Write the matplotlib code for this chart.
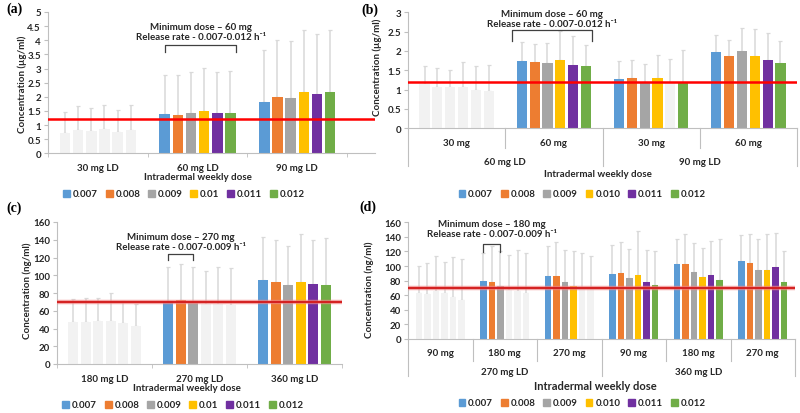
import numpy as np
import matplotlib.pyplot as plt
from matplotlib.patches import Patch
from matplotlib.transforms import blended_transform_factory

plt.rcParams['font.family'] = ['Lato', 'DejaVu Sans']
plt.rcParams['font.weight'] = 'bold'

# release rates (legend entries)
rates_ac = ['0.007', '0.008', '0.009', '0.01', '0.011', '0.012']
rates_bd = ['0.007', '0.008', '0.009', '0.010', '0.011', '0.012']

# panel (a) - ug/ml
a_groups = ['30 mg LD', '60 mg LD', '90 mg LD']
a_mean = [[0.73, 0.83, 0.80, 0.85, 0.76, 0.83],
          [1.38, 1.37, 1.42, 1.50, 1.42, 1.43],
          [1.82, 1.98, 1.97, 2.18, 2.10, 2.17]]
a_sd = [[0.72, 0.85, 0.82, 0.87, 0.77, 0.87],
        [1.40, 1.41, 1.46, 1.52, 1.44, 1.47],
        [1.83, 2.02, 2.00, 2.20, 2.12, 2.18]]
a_yticks = [0, 0.5, 1, 1.5, 2, 2.5, 3, 3.5, 4, 4.5, 5]
a_min = 1.2

# panel (b) - ug/ml
b_inner = ['30 mg', '60 mg', '30 mg', '60 mg']
b_outer = ['60 mg LD', '90 mg LD']
b_mean = [[1.14, 1.07, 1.07, 1.07, 0.99, 0.97],
          [1.75, 1.72, 1.70, 1.76, 1.64, 1.62],
          [1.27, 1.30, 1.21, 1.30, 1.16, 1.21],
          [1.98, 1.88, 2.00, 1.88, 1.76, 1.68]]
b_sd = [[0.47, 0.48, 0.44, 0.64, 0.62, 0.67],
        [0.47, 0.46, 0.50, 0.76, 0.75, 0.54],
        [0.48, 0.47, 0.45, 0.60, 0.63, 0.82],
        [0.44, 0.41, 0.60, 0.69, 0.70, 0.58]]
b_yticks = [0, 0.5, 1, 1.5, 2, 2.5, 3]
b_min = 1.2

# panel (c) - ng/ml
c_groups = ['180 mg LD', '270 mg LD', '360 mg LD']
c_mean = [[47.5, 47.5, 48.0, 48.8, 45.8, 42.8],
          [70.6, 72.0, 70.0, 67.5, 67.5, 66.0],
          [94.5, 92.4, 88.6, 92.0, 90.0, 88.6]]
c_sd = [[25.5, 26.5, 26.0, 31.2, 25.2, 25.2],
        [38.4, 41.0, 39.2, 37.5, 41.5, 42.0],
        [48.5, 47.6, 44.4, 54.0, 50.0, 53.4]]
c_yticks = [0, 20, 40, 60, 80, 100, 120, 140, 160]
c_min = 70

# panel (d) - ng/ml
d_inner = ['90 mg', '180 mg', '270 mg', '90 mg', '180 mg', '270 mg']
d_outer = ['270 mg LD', '360 mg LD']
d_mean = [[63.0, 61.7, 66.3, 62.6, 57.6, 53.5],
          [79.5, 78.6, 72.7, 67.2, 65.8, 62.6],
          [86.9, 86.9, 78.6, 72.7, 68.0, 68.0],
          [89.0, 91.0, 83.7, 87.8, 78.2, 74.5],
          [103.3, 102.4, 91.9, 85.0, 88.2, 80.5],
          [107.0, 103.8, 94.6, 94.6, 98.3, 78.6]]
d_sd = [[37.0, 42.3, 47.7, 43.4, 54.4, 55.5],
        [38.5, 48.4, 47.3, 47.8, 56.2, 54.9],
        [40.6, 46.1, 43.4, 47.3, 50.0, 46.0],
        [39.5, 41.6, 39.3, 60.8, 43.8, 46.2],
        [33.4, 41.1, 40.1, 40.0, 45.8, 56.5],
        [36.0, 40.2, 42.4, 49.4, 46.7, 42.1]]
d_yticks = [0, 20, 40, 60, 80, 100, 120, 140, 160]
d_min = 70

colors = ['#5B9BD5', '#ED7D31', '#A5A5A5', '#FFC000', '#7030A0', '#70AD47']
below_color = '#F2F2F2'
err_color = '#D9D9D9'
axis_color = '#BFBFBF'
text_color = '#262626'

W, H = 800, 414
fig = plt.figure(figsize=(W / 100, H / 100), dpi=100)


def box(left, top, right, bottom):
    return [left / W, 1 - bottom / H, (right - left) / W, (bottom - top) / H]


def fx(px):
    return px / W


def fy(py):
    return 1 - py / H


def draw_panel(ax, means, sds, thr, yticks, xlim, halo=False, pitch=0.132, width=0.105):
    means = np.array(means)
    sds = np.array(sds)
    for g in range(means.shape[0]):
        for i in range(means.shape[1]):
            x = g + (i - 2.5) * pitch
            c = colors[i] if means[g, i] >= thr else below_color
            ax.bar(x, means[g, i], width, color=c, zorder=2)
            ax.errorbar(x, means[g, i], yerr=[[0], [sds[g, i]]], color=err_color,
                        lw=1.1, capsize=1.6, capthick=0.9, zorder=1)
    if halo:
        ax.axhline(thr, color='#F08080', lw=3.2, alpha=0.7, zorder=4)
        ax.axhline(thr, color='#D42020', lw=1.4, zorder=4)
    else:
        ax.axhline(thr, color='#FF0000', lw=1.8, zorder=4)
    ax.set_xlim(*xlim)
    ax.set_ylim(yticks[0], yticks[-1])
    ax.set_yticks(yticks)
    ax.set_yticklabels([f'{v:g}' for v in yticks])
    ax.spines[['top', 'right']].set_visible(False)
    ax.spines['left'].set_color(axis_color)
    ax.spines['bottom'].set_color(axis_color)
    ax.tick_params(axis='y', length=3, color=axis_color, labelsize=7,
                   labelcolor=text_color, pad=2)


def simple_xaxis(ax, groups):
    ax.set_xticks(range(len(groups)))
    ax.set_xticklabels(groups)
    ax.set_xticks(np.arange(len(groups) + 1) - 0.5, minor=True)
    ax.tick_params(axis='x', which='major', length=0, labelsize=7,
                   labelcolor=text_color, pad=7)
    ax.tick_params(axis='x', which='minor', length=3, color=axis_color)


def multi_xaxis(ax, inner, outer, axis_px, row1_px, row1_bot, row2_px, row2_bot):
    tr = blended_transform_factory(ax.transData, fig.transFigure)
    ax.set_xticks([])
    per = len(inner) // len(outer)
    for i, lab in enumerate(inner):
        ax.text(i, fy(row1_px), lab, transform=tr, ha='center', va='center',
                fontsize=7, color=text_color)
    for j, lab in enumerate(outer):
        ax.text(j * per + (per - 1) / 2, fy(row2_px), lab, transform=tr,
                ha='center', va='center', fontsize=7, color=text_color)
    for k in range(len(inner) + 1):
        bot = row2_bot if k % per == 0 else row1_bot
        ax.plot([k - 0.5, k - 0.5], [fy(axis_px), fy(bot)], transform=tr,
                clip_on=False, color=axis_color, lw=0.8)


def bracket(ax, x0, x1, y_top, y_leg, line1, line2, y1, y2):
    ax.plot([x0, x0, x1, x1], [y_leg, y_top, y_top, y_leg], color='#404040',
            lw=0.9, clip_on=False, zorder=5)
    xm = (x0 + x1) / 2
    ax.text(xm, y1, line1, ha='center', va='center', fontsize=7, color=text_color)
    ax.text(xm, y2, line2, ha='center', va='center', fontsize=7, color=text_color)


def legend(labels, cx, cy):
    handles = [Patch(color=c) for c in colors]
    fig.legend(handles, labels, loc='center', bbox_to_anchor=(fx(cx), fy(cy)),
               ncol=6, frameon=False, fontsize=7, handlelength=0.7,
               handleheight=0.7, handletextpad=0.3, columnspacing=0.8,
               borderpad=0, labelcolor=text_color)


# ---- (a)
ax_a = fig.add_axes(box(48, 13, 375, 154.3))
draw_panel(ax_a, a_mean, a_sd, a_min, a_yticks, (-0.5, 2.78))
simple_xaxis(ax_a, a_groups)
bracket(ax_a, 1 - 2.5 * 0.132, 1 + 2.5 * 0.132 + 0.06, 3.83, 3.58,
        'Minimum dose \u2013 60 mg', 'Release rate - 0.007-0.012 h\u207b\u00b9', 4.47, 4.12)
fig.text(fx(198), fy(178), 'Intradermal weekly dose', ha='center', va='center',
         fontsize=7, color=text_color)
fig.text(fx(22), fy(84), 'Concentration (\u00b5g/ml)', rotation=90, ha='center',
         va='center', fontsize=7, color=text_color)
legend(rates_ac, 184, 195)

# ---- (b)
ax_b = fig.add_axes(box(408, 13.3, 797, 129.3))
draw_panel(ax_b, b_mean, b_sd, b_min, b_yticks, (-0.5, 3.5))
multi_xaxis(ax_b, b_inner, b_outer, 129.3, 143.3, 149.3, 162.7, 166.7)
bracket(ax_b, 1 - 2.5 * 0.132 - 0.1, 1 + 2.5 * 0.132 + 0.06, 2.54, 2.26,
        'Minimum dose \u2013 60 mg', 'Release rate - 0.007-0.012 h\u207b\u00b9', 2.98, 2.72)
fig.text(fx(598), fy(175), 'Intradermal weekly dose', ha='center', va='center',
         fontsize=7, color=text_color)
fig.text(fx(377), fy(67), 'Concentration (\u00b5g/ml)', rotation=90, ha='center',
         va='center', fontsize=7, color=text_color)
legend(rates_bd, 582, 195)

# ---- (c)
ax_c = fig.add_axes(box(57, 223, 342, 365))
draw_panel(ax_c, c_mean, c_sd, c_min, c_yticks, (-0.5, 2.5), halo=True)
simple_xaxis(ax_c, c_groups)
bracket(ax_c, 1 - 2.5 * 0.132, 1 - 0.5 * 0.132, 124, 117,
        'Minimum dose \u2013 270 mg', 'Release rate - 0.007-0.009 h\u207b\u00b9', 144, 132)
fig.text(fx(187), fy(389), 'Intradermal weekly dose', ha='center', va='center',
         fontsize=7, color=text_color)
fig.text(fx(27), fy(291), 'Concentration (ng/ml)', rotation=90, ha='center',
         va='center', fontsize=7, color=text_color)
legend(rates_ac, 183, 406)

# ---- (d)
ax_d = fig.add_axes(box(408, 223.3, 795, 340))
draw_panel(ax_d, d_mean, d_sd, d_min, d_yticks, (-0.5, 5.5), halo=True)
multi_xaxis(ax_d, d_inner, d_outer, 340, 354, 361.7, 372.7, 376.7)
bracket(ax_d, 1 - 2.5 * 0.132, 1 - 0.5 * 0.132, 130, 119,
        'Minimum dose \u2013 180 mg', 'Release rate - 0.007-0.009 h\u207b\u00b9', 159, 144)
fig.text(fx(595), fy(387), 'Intradermal weekly dose', ha='center', va='center',
         fontsize=8, color=text_color)
fig.text(fx(369), fy(290), 'Concentration (ng/ml)', rotation=90, ha='center',
         va='center', fontsize=7, color=text_color)
legend(rates_bd, 582, 404)

# panel letters
for lab, px, py in [('(a)', 14, 9), ('(b)', 370, 10), ('(c)', 14, 208), ('(d)', 368, 207)]:
    fig.text(fx(px), fy(py), lab, ha='center', va='center', fontsize=10,
             family='Liberation Serif', weight='bold', color='black')

fig.savefig('out.png', dpi=100)
